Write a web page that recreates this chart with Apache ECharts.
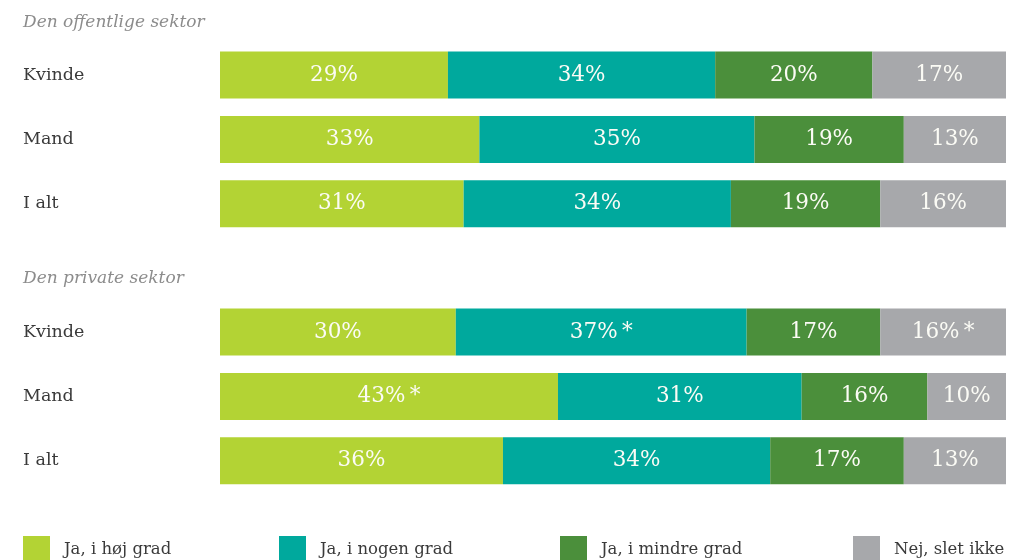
<!DOCTYPE html>
<html>
<head>
<meta charset="utf-8">
<script src="https://cdn.jsdelivr.net/npm/echarts@6/dist/echarts.min.js"></script>
<style>
  html, body { margin: 0; padding: 0; background: #fff; }
  #chart { width: 1011px; height: 560px; }
</style>
</head>
<body>
<div id="chart"></div>
<script>
// Row labels and section headings
const rowLabels = ['Kvinde', 'Mand', 'I alt'];
const sections = ['Den offentlige sektor', 'Den private sektor'];
const seriesNames = ['Ja, i høj grad', 'Ja, i nogen grad', 'Ja, i mindre grad', 'Nej, slet ikke'];
const colors = ['#b3d334', '#00a99d', '#4b8f3b', '#a7a8ab'];

// Shares in percent, one array per answer, rows in order Kvinde, Mand, I alt
const offHoej   = [29, 33, 31];
const offNogen  = [34, 35, 34];
const offMindre = [20, 19, 19];
const offNej    = [17, 13, 16];

const privHoej   = [30, 43, 36];
const privNogen  = [37, 31, 34];
const privMindre = [17, 16, 17];
const privNej    = [16, 10, 13];

// Significance marks (*) per answer and row
const offStar  = [[false, false, false], [false, false, false], [false, false, false], [false, false, false]];
const privStar = [[false, true, false], [true, false, false], [false, false, false], [true, false, false]];

const FONT = 'DejaVu Serif';
const sectionData = [
  [offHoej, offNogen, offMindre, offNej],
  [privHoej, privNogen, privMindre, privNej]
];
const sectionStars = [offStar, privStar];

const gridTops = [42.8, 299.8];
const grids = gridTops.map(t => ({ left: 220, right: 5, top: t, height: 193.2, containLabel: false }));

const xAxes = grids.map((g, i) => ({
  type: 'value', gridIndex: i, min: 0, max: 100, show: false
}));
const yAxes = grids.map((g, i) => ({
  type: 'category', gridIndex: i, inverse: true, data: rowLabels,
  axisLine: { show: false }, axisTick: { show: false }, splitLine: { show: false },
  axisLabel: {
    align: 'left', margin: 197, fontFamily: FONT, fontSize: 17.5, color: '#3a3a3a',
    padding: [5, 0, 0, 0]
  }
}));

const series = [];
sectionData.forEach((vals, s) => {
  vals.forEach((arr, k) => {
    series.push({
      name: seriesNames[k], type: 'bar', stack: 'sec' + s,
      xAxisIndex: s, yAxisIndex: s, barWidth: 47,
      itemStyle: { color: colors[k] },
      data: arr,
      label: {
        show: true, position: 'inside', color: '#fbfbf5',
        fontFamily: FONT, fontSize: 21.5, padding: [4, 0, 0, 0],
        formatter: p => p.value + '%' + (sectionStars[s][k][p.dataIndex] ? '\u2009*' : '')
      }
    });
  });
});

const legendLefts = [23, 279, 560, 853];
const legends = seriesNames.map((n, i) => ({
  data: [n], left: legendLefts[i], top: 536, padding: 0,
  itemWidth: 27, itemHeight: 27, itemGap: 0, icon: 'rect',
  textStyle: { fontFamily: FONT, fontSize: 16.5, color: '#3a3a3a', padding: [0, 0, 0, 9] },
  selectedMode: false
}));

const chart = echarts.init(document.getElementById('chart'), null, { renderer: 'canvas' });
chart.setOption({
  animation: false,
  grid: grids,
  xAxis: xAxes,
  yAxis: yAxes,
  legend: legends,
  graphic: sections.map((t, i) => ({
    type: 'text', left: 23, top: [14, 270][i],
    style: { text: t, fontFamily: FONT, fontStyle: 'italic', fontSize: 17, fill: '#8c8c8c' }
  })),
  series: series
});
</script>
</body>
</html>
